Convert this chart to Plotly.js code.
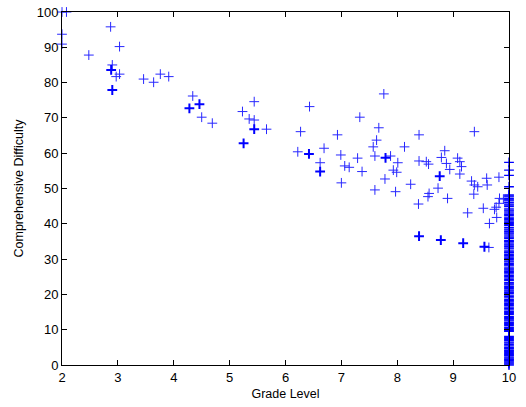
<!DOCTYPE html>
<html>
<head>
<meta charset="utf-8">
<script src="https://cdn.plot.ly/plotly-3.0.1.min.js"></script>
<style>html,body{margin:0;padding:0;background:#fff;}#chart{width:526px;height:407px;}</style>
</head>
<body>
<div id="chart"></div>
<script>
// Regular points (Grade Level, Comprehensive Difficulty)
const gradeLevel = [2.0, 2.08, 2.0, 2.0, 2.87, 3.03, 2.48, 2.90, 3.03, 2.97, 3.46, 3.64, 3.76, 3.91, 4.34, 4.50, 4.69,
  5.44, 5.23, 5.35, 5.44, 5.66, 6.43, 6.27, 6.22, 6.62, 6.69, 6.93, 6.99, 7.06, 7.14, 7.00, 7.33, 7.29, 7.37,
  7.76, 7.67, 7.63, 7.57, 7.60, 7.78, 7.60, 8.39, 8.13, 7.88, 8.01, 7.93, 7.99, 7.97, 8.24, 8.39, 8.52, 8.56,
  8.57, 8.55, 8.38, 8.73, 8.90, 8.79, 8.85, 8.88, 8.94, 9.08, 9.12, 9.15, 9.12, 9.38, 9.33, 9.38, 9.44, 9.37,
  9.60, 9.61, 9.82, 9.26, 9.54, 9.77, 9.82, 9.74, 9.78, 9.65, 9.90, 9.64, 9.83];
const difficulty = [100, 100, 93.7, 90.9, 95.8, 90.2, 87.8, 85.0, 82.4, 81.7, 81.0, 80.1, 82.4, 81.7, 76.2, 70.2, 68.5,
  74.6, 71.8, 69.7, 69.4, 66.8, 73.2, 66.1, 60.4, 57.3, 61.4, 65.2, 59.5, 56.4, 56.0, 51.6, 70.2, 58.6, 54.8,
  76.8, 67.2, 63.7, 61.8, 59.2, 52.7, 49.6, 65.2, 61.8, 59.2, 57.3, 55.2, 54.6, 49.1, 51.2, 57.8, 57.6, 56.9,
  48.6, 47.7, 45.6, 50.1, 47.2, 58.8, 60.7, 57.1, 55.4, 58.6, 57.6, 56.2, 54.1, 66.1, 52.1, 51.0, 50.5, 48.4,
  52.9, 51.0, 53.2, 43.1, 44.4, 44.7, 45.8, 44.1, 41.8, 40.1, 47.0, 33.3, 47.2];

// Heavier (overlapping) points
const boldGrade = [2.88, 2.90, 4.28, 4.46, 5.44, 5.25, 6.42, 6.62, 7.79, 8.76, 8.39, 8.78, 9.18, 9.56];
const boldDifficulty = [83.6, 77.9, 72.7, 73.9, 66.8, 62.8, 59.8, 54.8, 58.7, 53.5, 36.5, 35.4, 34.5, 33.5];

// Points at grade level 10
const grade10Difficulty = [57.4, 55.2, 53.7, 50.5, 48.2, 47.9, 47.6, 47.1, 46.8, 46.5, 46.0, 45.6, 45.3, 44.9, 44.2,
  43.9, 43.6, 43.1, 42.7, 42.4, 41.9, 41.5, 41.2, 40.8, 40.4, 40.1, 39.8, 39.5, 38.9, 38.5, 38.2, 37.8, 37.4,
  37.1, 36.6, 36.2, 35.9, 35.3, 35.0, 34.8, 34.3, 34.0, 33.6, 33.2, 32.9, 32.3, 32.0, 31.8, 31.3, 31.0, 30.6,
  30.2, 29.9, 29.5, 29.2, 28.8, 28.4, 28.1, 27.5, 27.2, 26.9, 26.5, 26.2, 25.8, 25.4, 25.0, 24.6, 24.2, 23.9,
  23.3, 23.0, 22.7, 22.3, 22.0, 21.6, 21.2, 20.9, 20.6, 20.3, 19.8, 19.4, 19.0, 18.5, 18.2, 17.9, 17.5, 17.2,
  16.8, 16.4, 16.0, 15.6, 15.2, 14.9, 14.6, 14.3, 13.7, 13.4, 13.1, 12.8, 12.5, 12.1, 11.8, 11.5, 11.2, 10.7,
  10.4, 10.0, 9.7, 9.5, 8.1, 7.8, 7.5, 7.2, 6.9, 6.5, 6.2, 5.8, 5.4, 5.0, 4.7, 4.5, 4.1, 3.9, 3.5, 3.2, 2.9,
  2.7, 2.3, 2.0, 1.7, 1.5, 1.2, 0.9, 0.6, 0.3, 0];
const grade10 = grade10Difficulty.map(() => 10);

const xTicks = [2, 3, 4, 5, 6, 7, 8, 9, 10];
const yTicks = [0, 10, 20, 30, 40, 50, 60, 70, 80, 90, 100];

const base = {type: 'scatter', mode: 'markers', cliponaxis: false, hoverinfo: 'skip', showlegend: false};
const traces = [
  Object.assign({}, base, {x: gradeLevel, y: difficulty,
    marker: {symbol: 'cross-thin', size: 7, line: {color: 'rgb(40,40,255)', width: 1}}}),
  Object.assign({}, base, {x: grade10, y: grade10Difficulty,
    marker: {symbol: 'cross-thin', size: 7, line: {color: 'rgb(0,0,255)', width: 1.3}}}),
  Object.assign({}, base, {x: boldGrade, y: boldDifficulty,
    marker: {symbol: 'cross-thin', size: 7, line: {color: 'rgb(0,0,255)', width: 2}}})
];

const axisCommon = {
  showgrid: false, zeroline: false, showline: true, linecolor: '#000', linewidth: 1,
  mirror: 'allticks', ticks: 'inside', ticklen: 5, tickcolor: '#000', tickwidth: 1,
  tickfont: {family: 'Liberation Sans, Arial, sans-serif', size: 13, color: '#000'}
};

const layout = {
  width: 526, height: 407,
  margin: {l: 62, r: 17, t: 12, b: 42, pad: 0},
  paper_bgcolor: '#fff', plot_bgcolor: '#fff',
  xaxis: Object.assign({}, axisCommon, {range: [2, 10], tickvals: xTicks, ticktext: xTicks.map(String),
    title: {text: 'Grade Level', standoff: 5, font: {family: 'Liberation Sans, Arial, sans-serif', size: 12.5, color: '#000'}}}),
  yaxis: Object.assign({}, axisCommon, {range: [0, 100], tickvals: yTicks, ticktext: yTicks.map(String),
    title: {text: 'Comprehensive Difficulty', standoff: 10, font: {family: 'Liberation Sans, Arial, sans-serif', size: 12.5, color: '#000'}}})
};

Plotly.newPlot('chart', traces, layout, {staticPlot: true, displayModeBar: false});
</script>
</body>
</html>
